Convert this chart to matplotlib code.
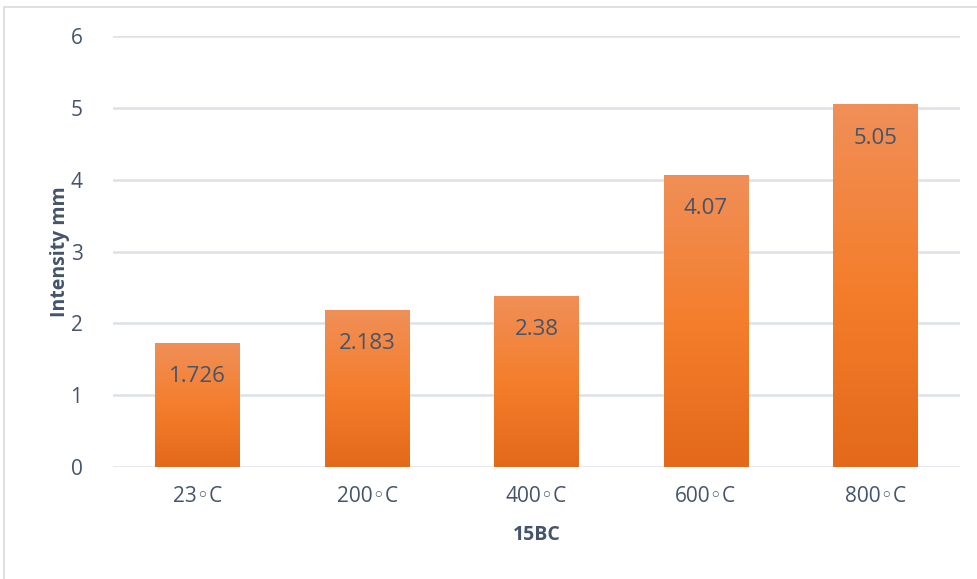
import numpy as np
import matplotlib
matplotlib.use('Agg')
import matplotlib.pyplot as plt
from matplotlib.colors import LinearSegmentedColormap
from matplotlib.patches import Rectangle

plt.rcParams['font.family'] = ['Open Sans', 'DejaVu Sans']

# ----------------------------------------------------------------------
temps = ['23◦C', '200◦C', '400◦C', '600◦C', '800◦C']
values = [1.726, 2.183, 2.38, 4.07, 5.05]
labels = ['1.726', '2.183', '2.38', '4.07', '5.05']
yticks = [0, 1, 2, 3, 4, 5, 6]

text_col = '#44546A'
grid_col = '#DDE1E6'
grad = LinearSegmentedColormap.from_list(
    'orange', ['#E4691A', '#F47E2C', '#F08F58'])

# ----------------------------------------------------------------------
fig = plt.figure(figsize=(9.77, 5.79), dpi=100)
ax = fig.add_axes([113/977, 1-467/579, (960-113)/977, (467-36)/579])

bars = ax.bar(range(len(values)), values, width=0.5, color='#F47E2C', zorder=2)

# vertical gradient inside every bar
g = np.linspace(0, 1, 256).reshape(-1, 1)
for b in bars:
    x0, y0 = b.get_x(), b.get_y()
    w, h = b.get_width(), b.get_height()
    im = ax.imshow(g, cmap=grad, origin='lower', aspect='auto',
                   extent=[x0, x0 + w, y0, y0 + h], zorder=3)
    im.set_clip_path(b)

for i, (v, lab) in enumerate(zip(values, labels)):
    ax.text(i, v - 0.47, lab, ha='center', va='center',
            fontsize=16, color=text_col, zorder=4)

ax.set_xlim(-0.5, len(values) - 0.5)
ax.set_ylim(0, 6)
ax.set_yticks(yticks)
ax.set_xticks(range(len(values)))
ax.set_xticklabels(temps)
ax.tick_params(length=0, labelsize=15, labelcolor=text_col)
ax.tick_params(axis='y', pad=22)
ax.tick_params(axis='x', pad=14)
for s in ax.spines.values():
    s.set_visible(False)
ax.yaxis.grid(True, color=grid_col, linewidth=1.8)
ax.set_axisbelow(True)

ax.set_ylabel('Intensity mm', fontsize=14, fontweight='bold', color=text_col)
ax.set_xlabel('15BC', fontsize=14, fontweight='bold', color=text_col)
ax.yaxis.set_label_coords(-0.051, 0.5)
ax.xaxis.set_label_coords(0.5, -0.135)

# chart frame
fig.patches.append(Rectangle((4/977, -0.01), 1.0, 1 - 7/579 + 0.01,
                             transform=fig.transFigure, fill=False,
                             edgecolor='#D9D9D9', linewidth=1.2))

plt.savefig('out.png', dpi=100)
